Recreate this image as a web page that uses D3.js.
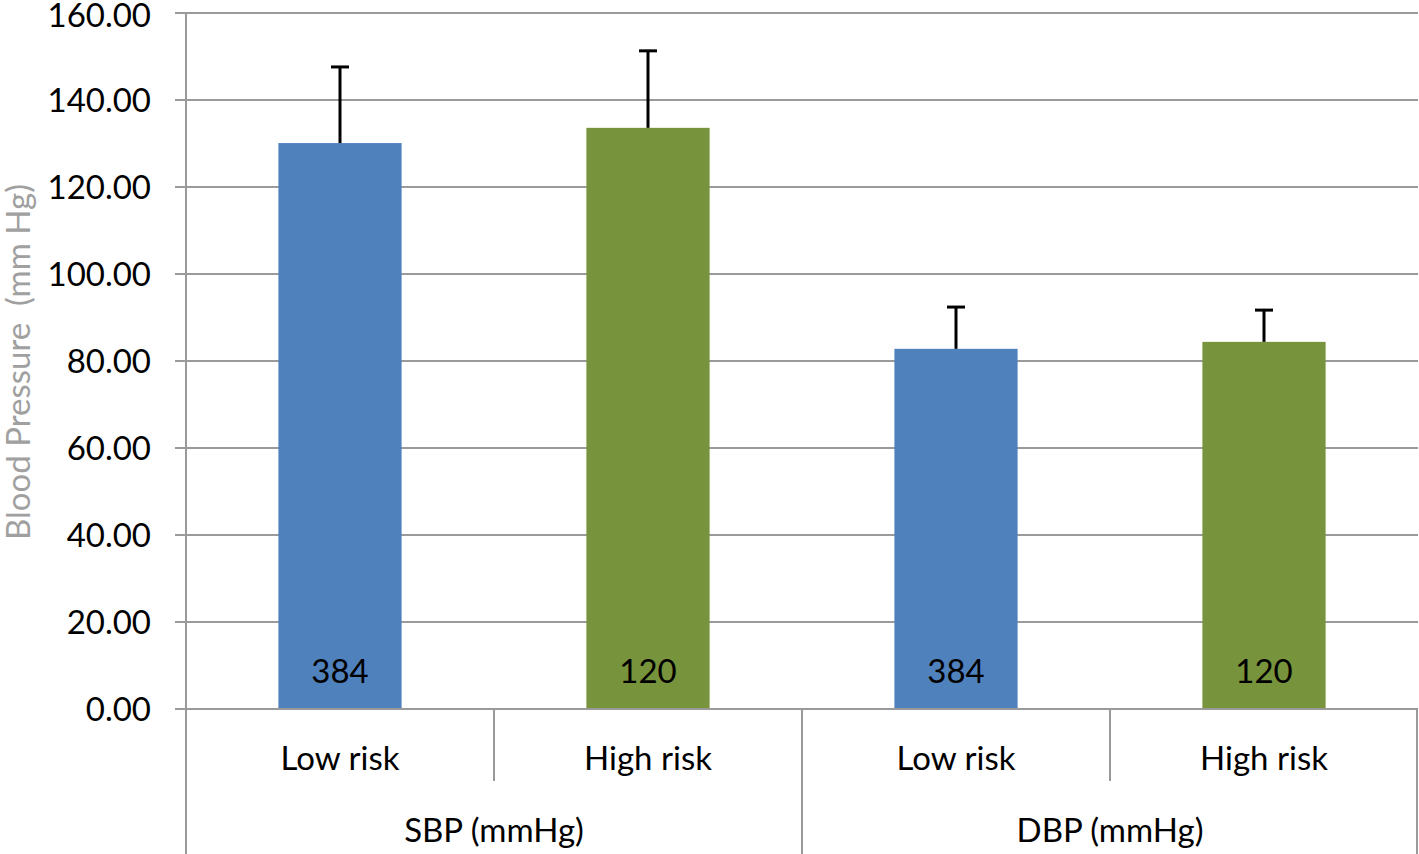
<!DOCTYPE html>
<html><head><meta charset="utf-8">
<script src="https://cdn.jsdelivr.net/npm/d3@7"></script>
<style>body{margin:0;background:#fff;} svg{display:block;font-family:Lato,"Open Sans",sans-serif;}</style>
</head><body>
<svg id="c" width="1419" height="854"></svg>
<script>
const groups = ["SBP (mmHg)", "DBP (mmHg)"];
const categories = ["Low risk", "High risk", "Low risk", "High risk"];
const groupOf = [0, 0, 1, 1];
const means = [130.1, 133.6, 82.8, 84.4];
const errTops = [147.6, 151.3, 92.4, 91.7];
const counts = ["384", "120", "384", "120"];
const colors = ["#4F81BD", "#77933C", "#4F81BD", "#77933C"];
const yTicks = [0, 20, 40, 60, 80, 100, 120, 140, 160];

(function () {
const svg = d3.select("#c");
const pL = 186, pR = 1418, pT = 13, pB = 709;
const y = d3.scaleLinear().domain([0, 160]).range([pB, pT]);
const x = d3.scaleBand().domain(d3.range(categories.length)).range([pL, pR]).paddingInner(0).paddingOuter(0);
const bw = x.bandwidth() * 0.4;
const grid = "#9a9a9a";
const fs = 33;

svg.append("g").selectAll("line").data(yTicks).join("line")
  .attr("x1", pL - 11).attr("x2", pR).attr("y1", d => y(d)).attr("y2", d => y(d))
  .attr("stroke", grid).attr("stroke-width", 2);
svg.append("g").selectAll("text").data(yTicks).join("text")
  .attr("x", 151).attr("y", d => Math.max(y(d), 15)).attr("dy", "0.35em").attr("text-anchor", "end")
  .attr("font-size", fs).attr("fill", "#000").text(d => d.toFixed(2));

svg.append("line").attr("x1", pL).attr("x2", pL).attr("y1", pT).attr("y2", 854).attr("stroke", grid).attr("stroke-width", 2);
svg.append("line").attr("x1", pR - 1).attr("x2", pR - 1).attr("y1", pB).attr("y2", 854).attr("stroke", grid).attr("stroke-width", 2);
[1, 3].forEach(i => svg.append("line").attr("x1", x(i)).attr("x2", x(i)).attr("y1", pB).attr("y2", 781).attr("stroke", grid).attr("stroke-width", 2));
svg.append("line").attr("x1", x(2)).attr("x2", x(2)).attr("y1", pB).attr("y2", 854).attr("stroke", grid).attr("stroke-width", 2);

const cx = i => x(i) + x.bandwidth() / 2;
svg.append("g").selectAll("rect").data(means).join("rect")
  .attr("x", (d, i) => cx(i) - bw / 2).attr("width", bw)
  .attr("y", d => y(d)).attr("height", d => pB - y(d))
  .attr("fill", (d, i) => colors[i]);

const eb = svg.append("g").attr("stroke", "#000").attr("stroke-width", 3);
errTops.forEach((e, i) => {
  eb.append("line").attr("x1", cx(i)).attr("x2", cx(i)).attr("y1", y(means[i])).attr("y2", y(e));
  eb.append("line").attr("x1", cx(i) - 9).attr("x2", cx(i) + 9).attr("y1", y(e)).attr("y2", y(e));
});

svg.append("line").attr("x1", pL - 11).attr("x2", pR).attr("y1", pB).attr("y2", pB).attr("stroke", grid).attr("stroke-width", 2);

svg.append("g").selectAll("text").data(counts).join("text")
  .attr("x", (d, i) => cx(i)).attr("y", 671).attr("dy", "0.35em").attr("text-anchor", "middle")
  .attr("font-size", fs).attr("fill", "#000").text(d => d);

svg.append("g").selectAll("text").data(categories).join("text")
  .attr("x", (d, i) => cx(i)).attr("y", 758).attr("dy", "0.35em").attr("text-anchor", "middle")
  .attr("font-size", fs).attr("fill", "#000").text(d => d);
svg.append("g").selectAll("text").data(groups).join("text")
  .attr("x", (d, g) => (x(g * 2) + x(g * 2 + 1) + x.bandwidth()) / 2).attr("y", 830).attr("dy", "0.35em")
  .attr("text-anchor", "middle").attr("font-size", fs).attr("fill", "#000").text(d => d);

svg.append("text").attr("transform", "translate(18,362) rotate(-90)").attr("dy", "0.35em")
  .attr("text-anchor", "middle").attr("font-size", 33).attr("fill", "#A0A0A0")
  .style("white-space", "pre").text("Blood Pressure  (mm Hg)");
})();
</script>
</body></html>
